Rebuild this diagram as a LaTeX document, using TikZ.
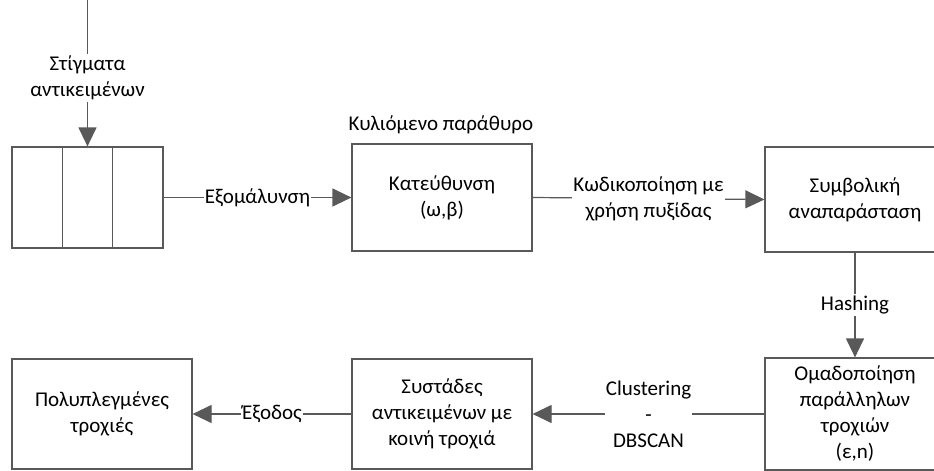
\documentclass[tikz,border=0pt]{standalone}
\usepackage{fontspec}
\setmainfont{Carlito}
\usetikzlibrary{positioning,calc,arrows.meta}

\begin{document}
\begin{tikzpicture}[x=1pt, y=-1pt,
    every node/.style={font=\fontsize{21}{26}\selectfont},
    box/.style={draw=black!65, line width=1.2pt, minimum width=180pt, align=center, inner sep=0pt},
    lbl/.style={fill=white, align=center, inner xsep=1pt, inner ysep=2pt},
    arr/.style={draw=black!65, line width=1.2pt, -{Triangle[length=19pt, width=18pt]}}]
    \clip (0,0) rectangle (934,471);
    % input buffer
    \node[box, minimum width=151pt, minimum height=101pt] (buf) at (87.5,197.5) {};
    \draw[draw=black!65, line width=1.2pt] ($(buf.north west)!1/3!(buf.north east)$) -- ($(buf.south west)!1/3!(buf.south east)$);
    \draw[draw=black!65, line width=1.2pt] ($(buf.north west)!2/3!(buf.north east)$) -- ($(buf.south west)!2/3!(buf.south east)$);
    \coordinate (in) at (87.5,0);
    % processing boxes
    \node[box, minimum height=107pt] (dir) at (442,197.5) {Κατεύθυνση\\(ω,β)};
    \node[anchor=west] (win) at (345,125) {Κυλιόμενο παράθυρο};
    \node[box, minimum height=105pt] (sym) at (855,199.5) {Συμβολική\\αναπαράσταση};
    \node[box, minimum height=112pt, text depth=3pt] (grp) at (855,414) {Ομαδοποίηση\\παράλληλων\\τροχιών\\(ε,n)};
    \node[box, minimum height=110pt] (clu) at (442,414) {Συστάδες\\αντικειμένων με\\κοινή τροχιά};
    \node[box, minimum height=110pt] (out) at (102,414) {Πολυπλεγμένες\\τροχιές};
    % connectors
    \draw[arr] (in) -- node[lbl, pos=0.53] {Στίγματα\\αντικειμένων} (buf.north);
    \draw[arr] (buf.east) -- node[lbl] {Εξομάλυνση} (dir.west);
    \draw[arr] (dir.east) -- node[lbl] {Κωδικοποίηση με\\χρήση πυξίδας} (sym.west);
    \draw[arr] (sym.south) -- node[lbl] {Hashing} (grp.north);
    \draw[arr] (grp.west) -- node[lbl] {Clustering\\-\\DBSCAN} (clu.east);
    \draw[arr] (clu.west) -- node[lbl] {Έξοδος} (out.east);
\end{tikzpicture}
\end{document}
